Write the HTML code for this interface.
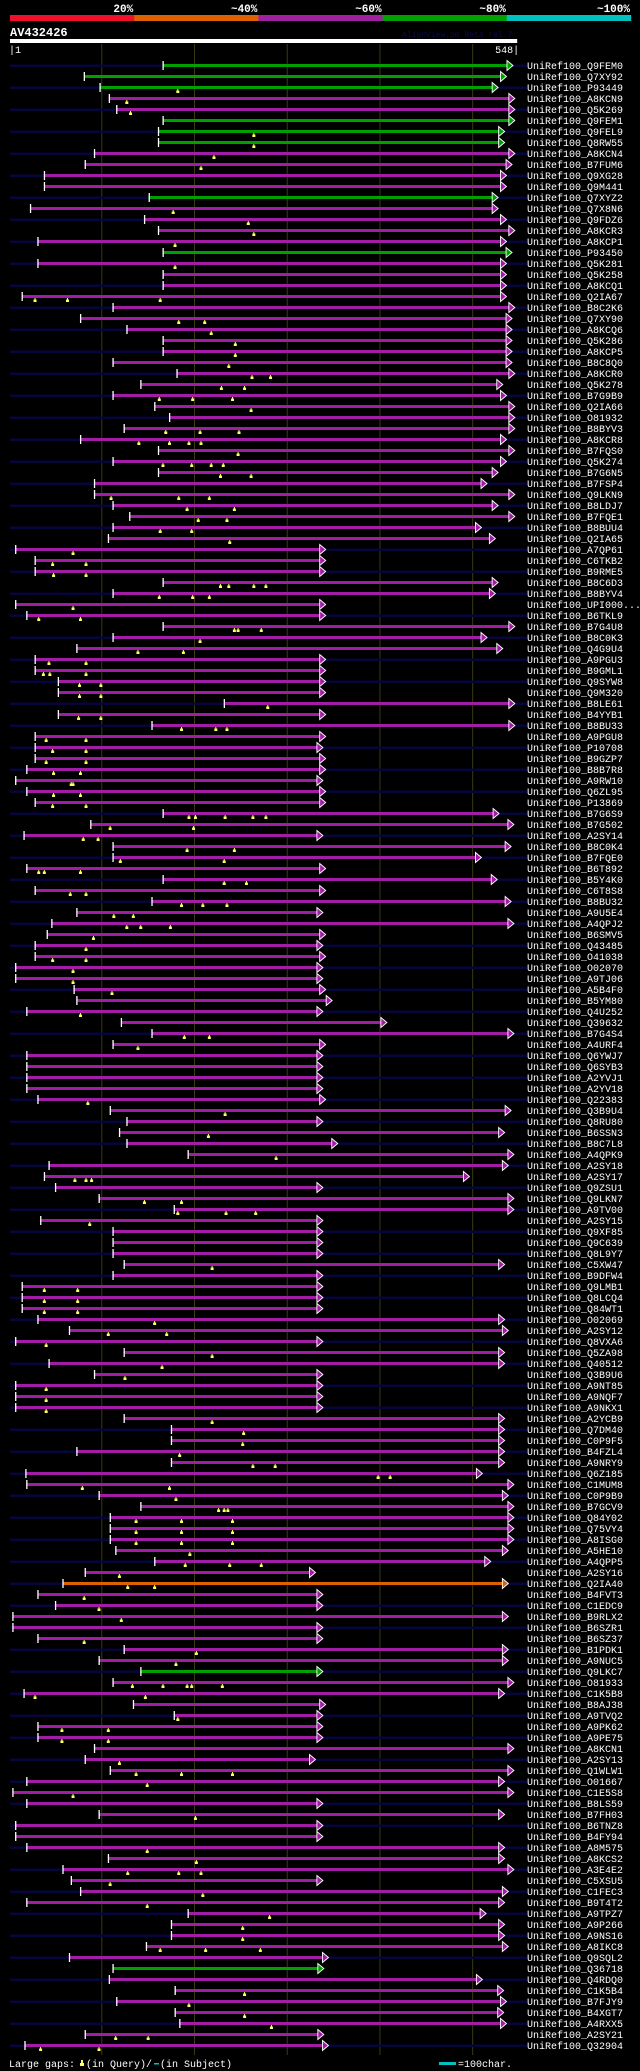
<!DOCTYPE html>
<html><head><meta charset="utf-8"><style>
html,body{margin:0;padding:0;background:#000;}
svg{display:block;font-family:"Liberation Mono","DejaVu Sans Mono",monospace;}
</style></head><body>
<svg id="chart" width="640" height="2071" viewBox="0 0 640 2071" xmlns="http://www.w3.org/2000/svg">
<rect x="0" y="0" width="640" height="2071" fill="#000"/>
<g id="hdr"></g>
<g id="grid"></g>
<g id="rows"></g>
<g id="gaps"></g>
<g id="legend"></g>
</svg>
<script>
const queryLength = 548;
const scaleLabels = ["20%","~40%","~60%","~80%","~100%"];
const scaleColors = ["#f0102a","#e06000","#a020a0","#00a000","#00c0c0"];
const hitNames = ["Q9FEM0","Q7XY92","P93449","A8KCN9","Q5K269","Q9FEM1","Q9FEL9","Q8RW55","A8KCN4","B7FUM6","Q9XG28","Q9M441","Q7XYZ2","Q7X8N6","Q9FDZ6","A8KCR3","A8KCP1","P93450","Q5K281","Q5K258","A8KCQ1","Q2IA67","B8C2K6","Q7XY90","A8KCQ6","Q5K286","A8KCP5","B8C8Q0","A8KCR0","Q5K278","B7G9B9","Q2IA66","O81932","B8BYV3","A8KCR8","B7FQS0","Q5K274","B7G6N5","B7FSP4","Q9LKN9","B8LDJ7","B7FQE1","B8BUU4","Q2IA65","A7QP61","C6TKB2","B9RME5","B8C6D3","B8BYV4","UPI000...","B6TKL9","B7G4U8","B8C0K3","Q4G9U4","A9PGU3","B9GML1","Q9SYW8","Q9M320","B8LE61","B4YYB1","B8BU33","A9PGU8","P10708","B9GZP7","B8B7R8","A9RW10","Q6ZL95","P13869","B7G6S9","B7G502","A2SY14","B8C0K4","B7FQE0","B6T892","B5Y4K0","C6T8S8","B8BU32","A9U5E4","A4QPJ2","B6SMV5","Q43485","O41038","O02070","A9TJ06","A5B4F0","B5YM80","Q4U252","Q39632","B7G4S4","A4URF4","Q6YWJ7","Q6SYB3","A2YVJ1","A2YV18","Q22383","Q3B9U4","Q8RU80","B6SSN3","B8C7L8","A4QPK9","A2SY18","A2SY17","Q9ZSU1","Q9LKN7","A9TV00","A2SY15","Q9XF85","Q9C639","Q8L9Y7","C5XW47","B9DFW4","Q9LMB1","Q8LCQ4","Q84WT1","O02069","A2SY12","Q8VXA6","Q5ZA98","Q40512","Q3B9U6","A9NT85","A9NQF7","A9NKX1","A2YCB9","Q7DM40","C0P9F5","B4FZL4","A9NRY9","Q6Z185","C1MUM8","C0P9B9","B7GCV9","Q84Y02","Q75VY4","A8ISG0","A5HE10","A4QPP5","A2SY16","Q2IA40","B4FVT3","C1EDC9","B9RLX2","B6SZR1","B6SZ37","B1PDK1","A9NUC5","Q9LKC7","O81933","C1K5B8","B8AJ38","A9TVQ2","A9PK62","A9PE75","A8KCN1","A2SY13","Q1WLW1","O01667","C1E5S8","B8LS59","B7FH03","B6TNZ8","B4FY94","A8M575","A8KCS2","A3E4E2","C5XSU5","C1FEC3","B9T4T2","A9TPZ7","A9P266","A9NS16","A8IKC8","Q9SQL2","Q36718","Q4RDQ0","C1K5B4","B7FJY9","B4XGT7","A4RXX5","A2SY21","Q32904"];
const hitStarts = [166,81,98,108,116,166,161,161,92,82,38,38,151,23,146,161,31,166,31,166,166,14,112,77,127,166,166,112,181,142,112,157,173,124,77,161,112,161,92,92,112,130,112,107,7,28,28,166,112,7,19,166,112,73,28,28,53,53,232,53,154,28,28,28,19,7,19,28,166,88,16,112,112,19,166,28,154,73,46,41,28,28,7,7,70,73,19,121,154,112,19,19,19,19,31,109,127,119,127,193,43,38,50,97,178,34,112,112,112,124,112,14,14,14,31,65,7,124,43,92,7,7,7,124,175,175,73,175,18,19,97,142,109,109,109,115,157,82,58,31,50,4,4,31,124,97,142,112,16,134,178,31,31,92,82,109,19,4,19,97,7,7,19,107,58,67,77,19,193,175,175,148,65,112,108,179,116,179,184,82,17];
const hitEnds = [537,530,521,539,539,539,528,528,539,536,530,530,521,521,530,539,530,536,530,530,530,530,539,536,536,536,536,536,539,526,530,539,539,539,530,539,530,521,509,539,521,539,503,518,335,335,335,521,518,335,335,539,509,526,335,335,335,335,539,335,539,335,332,335,335,332,335,335,522,538,332,535,503,335,520,335,535,332,538,335,332,335,332,332,335,342,332,401,538,335,332,332,332,332,335,535,332,528,348,538,532,490,332,538,538,332,332,332,332,528,332,332,332,332,528,532,332,528,528,332,332,332,332,528,528,528,528,528,504,538,532,538,538,538,538,532,513,324,532,332,332,532,332,332,532,532,332,538,528,335,332,332,332,538,324,538,528,538,332,528,332,332,528,528,538,332,532,528,508,528,528,532,338,333,504,527,530,527,530,333,338];
const hitIdentity = ["g","g","g","m","m","g","g","g","m","m","m","m","g","m","m","m","m","g","m","m","m","m","m","m","m","m","m","m","m","m","m","m","m","m","m","m","m","m","m","m","m","m","m","m","m","m","m","m","m","m","m","m","m","m","m","m","m","m","m","m","m","m","m","m","m","m","m","m","m","m","m","m","m","m","m","m","m","m","m","m","m","m","m","m","m","m","m","m","m","m","m","m","m","m","m","m","m","m","m","m","m","m","m","m","m","m","m","m","m","m","m","m","m","m","m","m","m","m","m","m","m","m","m","m","m","m","m","m","m","m","m","m","m","m","m","m","m","m","o","m","m","m","m","m","m","m","g","m","m","m","m","m","m","m","m","m","m","m","m","m","m","m","m","m","m","m","m","m","m","m","m","m","m","g","m","m","m","m","m","m","m"];
const gapRows = [3,4,5,7,8,9,10,14,15,16,17,19,22,22,22,24,24,25,26,27,28,29,29,30,30,31,31,31,32,34,34,34,35,35,35,35,36,37,37,37,37,38,38,40,40,40,41,41,42,42,43,43,44,45,46,46,47,47,48,48,48,48,49,49,49,50,51,51,52,52,52,53,54,54,55,55,56,56,56,57,57,58,58,59,60,60,61,61,61,62,62,63,63,64,64,65,65,66,66,67,67,68,68,69,69,69,69,69,70,70,71,71,72,72,73,73,74,74,74,75,75,76,76,77,77,77,78,78,79,79,79,80,81,82,82,83,84,85,87,89,89,90,95,96,98,100,102,102,102,104,104,105,105,105,106,110,112,112,113,113,114,114,115,116,116,117,118,119,120,121,122,123,124,125,126,127,128,128,129,129,130,130,131,132,132,132,133,133,133,134,134,134,135,135,135,136,137,137,137,138,139,139,140,141,142,144,145,146,148,148,148,148,148,149,149,151,152,152,153,153,155,156,156,156,157,158,160,163,164,165,165,165,166,167,168,169,170,171,172,172,172,176,177,178,179,180,180,181,181];
const gapPos = [182,127,131,264,264,221,207,177,258,264,179,179,28,63,163,183,211,218,244,244,237,262,282,229,254,162,198,241,261,169,206,248,140,173,194,207,247,166,197,218,231,228,261,110,183,216,192,243,204,235,163,197,238,69,47,83,48,83,228,237,264,277,162,198,216,69,32,77,243,247,272,206,139,188,43,83,37,44,83,76,99,76,99,279,75,99,186,223,235,40,83,47,83,40,83,48,77,67,69,48,77,47,83,194,201,233,263,277,109,199,80,96,192,243,120,232,32,38,77,232,256,66,83,186,209,235,113,134,127,142,174,91,83,47,83,69,69,111,77,189,216,139,85,233,215,288,71,83,89,146,186,182,234,266,87,219,38,74,38,74,38,74,157,107,170,40,219,165,125,40,40,40,219,253,252,184,263,287,398,411,79,173,180,226,232,236,137,186,241,137,186,241,137,186,241,195,190,238,272,119,128,157,81,97,121,81,202,180,133,166,192,197,230,28,147,182,57,107,57,107,119,137,186,241,149,69,201,149,202,128,183,207,109,209,149,281,252,252,163,212,271,254,194,254,283,115,150,34,97];
const gridTicks = [100,200,300,400,500];

const NS = "http://www.w3.org/2000/svg";
const X0 = 10, PX = 0.9272, ROW0 = 65.5, PITCH = 11;
const xs = p => X0 + (p - 1) * PX;
const rowY = i => ROW0 + i * PITCH;
const colorOf = {g:"#00a000", m:"#a21ca6", o:"#e06000"};
function mk(tag, attrs, parent){ const e=document.createElementNS(NS,tag); for(const k in attrs) e.setAttribute(k,attrs[k]); parent.appendChild(e); return e; }

// header
const hdr = document.getElementById('hdr');
scaleColors.forEach((c,i)=>{
  const seg = mk('rect',{x:10+i*124.2,y:15,width:124.4,height:6,fill:c},hdr);
  
  
  const t = mk('text',{x:10+(i+1)*124.2-1,y:12,fill:'#fff','font-size':'11','font-weight':'bold','text-anchor':'end'},hdr);
  t.textContent = scaleLabels[i];
  
  
});
const qn = mk('text',{x:10,y:36,fill:'#fff','font-size':'12','font-weight':'bold'},hdr);
qn.textContent = "AV432426";


const av = mk('text',{x:402,y:37,fill:'#0c0c48','font-size':'8'},hdr);
av.textContent = "AlignView.pm Beta rel.7";


const qb = mk('rect',{x:xs(1),y:39,width:xs(queryLength)-xs(1),height:4,fill:'#fff'},hdr);


const q1 = mk('text',{x:9,y:53,fill:'#fff','font-size':'10'},hdr);
q1.textContent = "|1";


const q2 = mk('text',{x:xs(queryLength)+2,y:53,fill:'#fff','font-size':'10','text-anchor':'end'},hdr);
q2.textContent = queryLength+"|";



// gridlines
const grid = document.getElementById('grid');
gridTicks.forEach(p=>{
  const l = mk('line',{x1:xs(p),x2:xs(p),y1:44,y2:2055,stroke:'#3a3a12','stroke-width':1},grid);
  
  
});

// rows
const rows = document.getElementById('rows');
hitNames.forEach((nm,i)=>{
  const cy = rowY(i);
  const g = mk('g',{},rows);
  
  
  if(i%2===0){
    const bg = mk('rect',{x:10,y:cy-1,width:517,height:2.5,fill:'#06063a'},g);
    
    
  }
  const s = xs(hitStarts[i]), e = xs(hitEnds[i]);
  const col = colorOf[hitIdentity[i]];
  const bar = mk('rect',{x:s,y:cy-1.5,width:e-s,height:3,fill:col},g);
  
  
  const tk = mk('rect',{x:s-0.5,y:cy-4.5,width:1.3,height:9,fill:'#fff'},g);
  
  
  const ar = mk('polygon',{points:`${e},${cy-5} ${e+6},${cy} ${e},${cy+5}`,fill:col,stroke:'#fff','stroke-width':0.9},g);
  
  
  const t = mk('text',{x:527,y:cy+3.5,fill:'#fff','font-size':'10'},g);
  t.textContent = "UniRef100_"+nm;
  
  
});

// query gap markers
const gapsG = document.getElementById('gaps');
gapRows.forEach((r,k)=>{
  const cy = rowY(r-1);
  const x = xs(gapPos[k]);
  const m = mk('polygon',{points:`${x-1.5},${cy+5.5} ${x+1.5},${cy+5.5} ${x+1.5},${cy+3} ${x+0.5},${cy+3} ${x+0.5},${cy+1.5} ${x-0.5},${cy+1.5} ${x-0.5},${cy+3} ${x-1.5},${cy+3}`,fill:'#ffff60'},gapsG);
  
  
});

// legend
const lg = document.getElementById('legend');
const l1 = mk('text',{x:9,y:2067,fill:'#fff','font-size':'10'},lg);
l1.textContent = "Large gaps:";


const ym = mk('polygon',{points:"80,2066 84,2066 84,2063 83,2063 83,2060 81,2060 81,2063 80,2063",fill:'#ffff60'},lg);


const l2 = mk('text',{x:86,y:2067,fill:'#fff','font-size':'10'},lg);
l2.textContent = "(in Query)/";


const cm = mk('rect',{x:154,y:2063,width:5,height:1.5,fill:'#00c0c0'},lg);


const l3 = mk('text',{x:160,y:2067,fill:'#fff','font-size':'10'},lg);
l3.textContent = " (in Subject)";


const sb = mk('rect',{x:439,y:2062,width:17,height:3,fill:'#00c0c0'},lg);


const l4 = mk('text',{x:458,y:2067,fill:'#fff','font-size':'10'},lg);
l4.textContent = "=100char.";


</script>
</body></html>
